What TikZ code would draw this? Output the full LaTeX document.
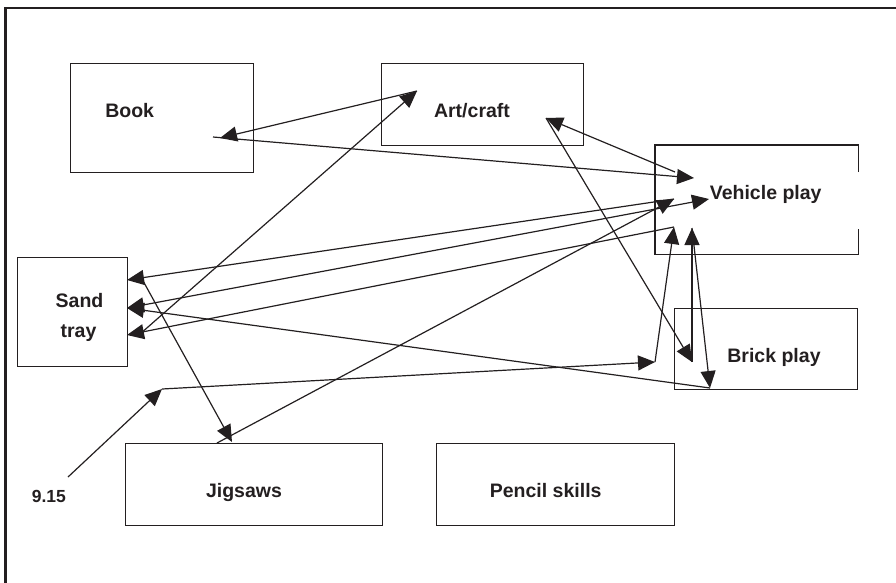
\documentclass[tikz,border=0pt]{standalone}
\usepackage{fontspec}
\setmainfont{Liberation Sans}
\usetikzlibrary{arrows.meta}
\definecolor{ink}{HTML}{231F20}
\begin{document}
\begin{tikzpicture}[x=1pt,y=-1pt,
  box/.style={draw=ink, line width=1.3pt, rectangle, inner sep=0pt, anchor=north west},
  boxline/.style={draw=ink, line width=1.3pt, line join=miter},
  lbl/.style={font=\fontsize{19.5}{22}\selectfont\bfseries, text=ink, anchor=base, inner sep=0pt},
  small/.style={font=\fontsize{17.5}{20}\selectfont\bfseries, text=ink, anchor=base, inner sep=0pt},
  conn/.style={draw=ink, line width=1.2pt},
  tip/.tip={Triangle[length=17pt,width=15pt]},
  arr/.style={conn, -tip},
  darr/.style={conn, tip-tip}]
\useasboundingbox (0,0) rectangle (896,582);
% outer frame (left and top only visible)
\draw[ink, line width=2.6pt, line join=miter] (5.5,600) -- (5.5,8) -- (910,8);

% boxes
\node[box, minimum width=183pt, minimum height=109pt] (book) at (70,63) {};
\node[box, minimum width=202pt, minimum height=82pt] (art) at (381,63) {};
\node[box, draw=none, minimum width=202pt, minimum height=108pt] (veh) at (655,145) {};
\draw[boxline] (veh.north east) ++(0,27) -- (veh.north east) -- (veh.north west) -- (veh.south west) -- (veh.south east) -- ++(0,-25);
\node[box, minimum width=110pt, minimum height=109pt] (sand) at (17,257) {};
\node[box, minimum width=183pt, minimum height=81pt] (brick) at (674,308) {};
\node[box, minimum width=257pt, minimum height=82pt] (jig) at (125,443) {};
\node[box, minimum width=238pt, minimum height=82pt] (pencil) at (436,443) {};

% labels
\node[lbl] (booktxt) at (129.7,117) {Book};
\node[lbl] (arttxt) at (472,117) {Art/craft};
\node[lbl] (vehtxt) at (765.7,199.5) {Vehicle play};
\node[lbl] (sandtxt) at (79.5,307) {Sand};
\node[lbl] (traytxt) at (78.5,337) {tray};
\node[lbl] (jigtxt) at (244,497) {Jigsaws};
\node[lbl] (penciltxt) at (545.7,497) {Pencil skills};
\node[lbl] (bricktxt) at (774,362) {Brick play};
\node[small] (timetxt) at (48.8,502) {9.15};

% connector end points
\coordinate (bookA) at (220,138);
\coordinate (bookB) at (213,137);
\coordinate (artA) at (417,91);
\coordinate (artB) at (546,118);
\coordinate (vehA) at (694,178);
\coordinate (vehB) at (675,172);
\coordinate (vehC) at (674,199);
\coordinate (vehD) at (709,199);
\coordinate (vehE) at (674,227);
\coordinate (vehF) at (692,228);
\coordinate (sandA) at (127,280);
\coordinate (sandB) at (127,308);
\coordinate (sandC) at (127,335);
\coordinate (sandD) at (142,279);
\coordinate (sandE) at (140,334);
\coordinate (jigA) at (232,442);
\coordinate (jigB) at (217,443);
\coordinate (brickA) at (692,362);
\coordinate (brickB) at (710,388);
\coordinate (pathA) at (68,477);
\coordinate (pathB) at (162,389);
\coordinate (pathC) at (655,362);

% connectors
\draw[arr] (artA) -- (bookA);
\draw[arr] (bookB) -- (vehA);
\draw[arr] (vehB) -- (artB);
\draw[arr] (artB) -- (brickA);
\draw[arr] (sandE) -- (artA);
\draw[arr] (vehC) -- (sandA);
\draw[darr] (vehD) -- (sandB);
\draw[arr] (vehE) -- (sandC);
\draw[arr] (brickB) -- (sandB);
\draw[arr] (sandD) -- (jigA);
\draw[arr] (jigB) -- (vehC);
\draw[arr] (brickA) -- (vehF);
\draw[arr] (vehF) -- (brickB);
\draw[arr] (pathA) -- (pathB);
\draw[arr] (pathB) -- (pathC);
\draw[arr] (pathC) -- (vehE);
\end{tikzpicture}
\end{document}
